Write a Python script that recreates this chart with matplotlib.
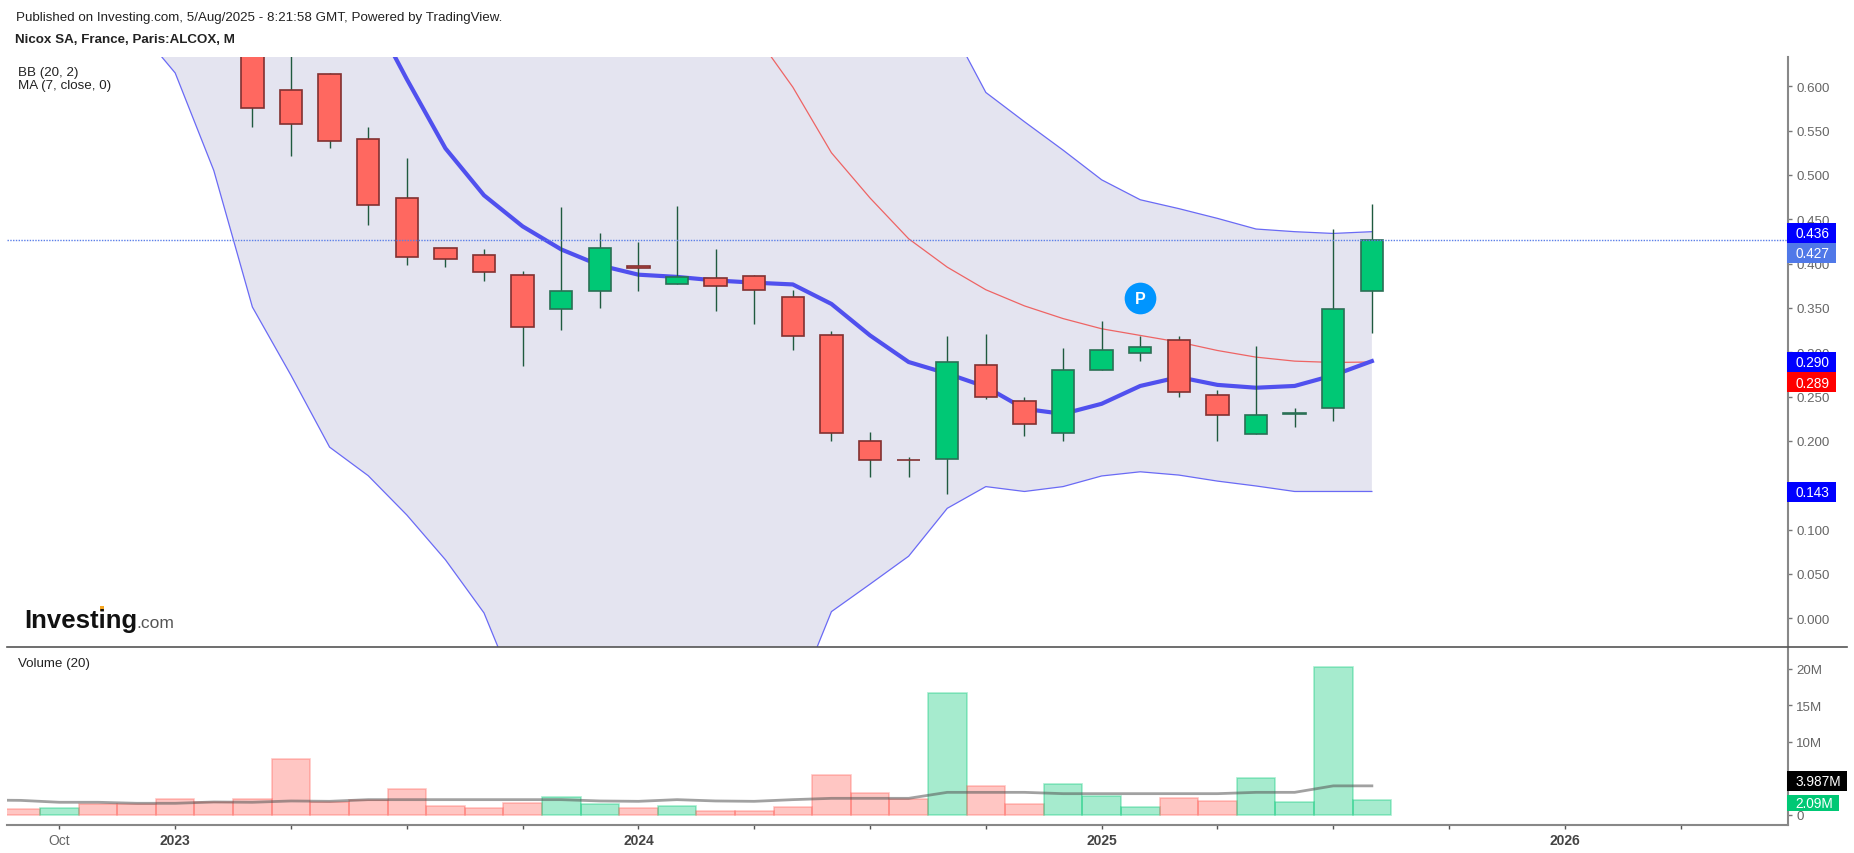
import matplotlib
matplotlib.use('Agg')
import matplotlib.pyplot as plt
from matplotlib.lines import Line2D
from matplotlib.patches import Rectangle
from matplotlib.transforms import IdentityTransform

plt.rcParams['font.family'] = ['Liberation Sans', 'DejaVu Sans']

W, H = 1854, 854

# month index, 0 = Oct 2022
candle_idx = list(range(5, 35))
opens = [0.700, 0.596, 0.614, 0.540, 0.474, 0.418, 0.410, 0.3875, 0.349, 0.369,
         0.397, 0.377, 0.3835, 0.3855, 0.362, 0.3195, 0.1996, 0.179, 0.180, 0.2855,
         0.245, 0.2095, 0.280, 0.2995, 0.314, 0.252, 0.208, 0.230, 0.2375, 0.369]
closes = [0.576, 0.557, 0.538, 0.466, 0.408, 0.405, 0.391, 0.328, 0.369, 0.418,
          0.3955, 0.3845, 0.3745, 0.370, 0.318, 0.209, 0.178, 0.178, 0.2885, 0.249,
          0.219, 0.2805, 0.3025, 0.3055, 0.255, 0.229, 0.2295, 0.231, 0.349, 0.427]
highs = [0.720, 0.660, 0.615, 0.554, 0.519, 0.418, 0.4165, 0.392, 0.4635, 0.435,
         0.424, 0.465, 0.416, 0.387, 0.3705, 0.3245, 0.2098, 0.1816, 0.3187, 0.3203,
         0.2495, 0.3045, 0.3355, 0.3187, 0.3187, 0.257, 0.3075, 0.237, 0.4385, 0.467]
lows = [0.5545, 0.5215, 0.530, 0.444, 0.398, 0.3965, 0.380, 0.284, 0.325, 0.350,
        0.3695, 0.377, 0.346, 0.332, 0.302, 0.2003, 0.1598, 0.1598, 0.1403, 0.2475,
        0.206, 0.2003, 0.280, 0.2905, 0.250, 0.2003, 0.208, 0.216, 0.222, 0.322]

# bands run far off the visible range on the left, those values are rough
band_idx = list(range(2, 35))
bb_upper = [1.28, 1.30, 1.34, 1.36, 1.36, 1.34, 1.32, 1.28, 1.24, 1.20, 1.16,
            1.12, 1.08, 1.05, 1.02, 1.00, 0.98, 0.97, 0.95, 0.88, 0.78, 0.675,
            0.593, 0.560, 0.528, 0.4945, 0.472, 0.462, 0.451, 0.439, 0.436, 0.434, 0.436]
bb_lower = [0.667, 0.615, 0.505, 0.351, 0.274, 0.193, 0.1608, 0.1165, 0.066, 0.006,
            -0.10, -0.18, -0.24, -0.27, -0.28, -0.26, -0.20, -0.10, 0.0075, 0.0385,
            0.070, 0.124, 0.1485, 0.143, 0.1485, 0.1605, 0.1652, 0.1615, 0.1547, 0.1492,
            0.143, 0.143, 0.143]

basis_idx = list(range(18, 35))
bb_basis = [0.660, 0.599, 0.525, 0.474, 0.428, 0.396, 0.3705, 0.3523, 0.338, 0.3265,
            0.319, 0.3115, 0.302, 0.2945, 0.290, 0.2885, 0.289]

ma_idx = list(range(8, 35))
ma7 = [0.690, 0.608, 0.530, 0.477, 0.442, 0.416, 0.398, 0.3875, 0.385, 0.381,
       0.3785, 0.3765, 0.3545, 0.319, 0.289, 0.276, 0.261, 0.2362, 0.2305, 0.2419,
       0.262, 0.272, 0.2632, 0.260, 0.262, 0.274, 0.290]

# volume in millions, starts one month before Oct 2022
vol_idx = list(range(-1, 35))
volume = [0.78, 0.91, 1.46, 1.55, 2.15, 1.78, 2.15, 7.63, 1.78, 2.10, 3.52, 1.28,
          0.91, 1.60, 2.47, 1.46, 0.91, 1.28, 0.55, 0.55, 1.05, 5.43, 3.01, 2.19,
          16.67, 4.02, 1.46, 4.20, 2.60, 1.05, 2.28, 1.96, 5.02, 1.78, 20.27, 2.09]
vol_up = [0, 1, 0, 0, 0, 0, 0, 0, 0, 0, 0, 0,
          0, 0, 1, 1, 0, 1, 0, 0, 0, 0, 0, 0,
          1, 0, 0, 1, 1, 1, 0, 0, 1, 1, 1, 1]
vol_ma_idx = list(range(-2, 35))
vol_ma = [2.05, 2.00, 1.74, 1.74, 1.60, 1.60, 1.78, 1.74, 1.92, 1.87, 2.10, 2.10, 2.10,
          2.10, 2.10, 2.10, 1.92, 1.87, 2.10, 1.92, 1.87, 2.10, 2.28, 2.28, 2.28,
          3.10, 3.10, 3.10, 2.92, 2.92, 2.92, 2.92, 2.92, 3.10, 3.10, 3.987, 3.987]

price_ticks = [0.0, 0.05, 0.10, 0.15, 0.20, 0.25, 0.30, 0.35, 0.40, 0.45, 0.50, 0.55, 0.60]
vol_ticks = [0, 5, 10, 15, 20]
vol_tick_labels = ['0', '5M', '10M', '15M', '20M']
month_ticks = [0, 3, 6, 9, 12, 15, 18, 21, 24, 27, 30, 33, 36, 39, 42]
month_labels = {0: 'Oct', 3: '2023', 15: '2024', 27: '2025', 39: '2026'}

GREEN = '#00c875'
RED = '#ff6860'


def fx(px):
    return px / W


def fy(py):
    return 1 - py / H


fig = plt.figure(figsize=(W / 100, H / 100), dpi=100, facecolor='white')
ax = fig.add_axes([fx(7), fy(648), fx(1788 - 7), (648 - 58) / H])
vax = fig.add_axes([fx(7), fy(825.7), fx(1788 - 7), (825.7 - 648) / H], sharex=ax)

# price panel
ax.fill_between(band_idx, bb_lower, bb_upper, color='#e4e4f0', lw=0, zorder=1)
ax.plot(band_idx, bb_upper, color='#6a6af5', lw=0.9, zorder=2)
ax.plot(band_idx, bb_lower, color='#6a6af5', lw=0.9, zorder=2)
ax.plot(basis_idx, bb_basis, color='#ee6464', lw=0.9, zorder=2)
ax.plot(ma_idx, ma7, color='#5050ee', lw=3.0, zorder=3, solid_joinstyle='round')

for i, o, c, h, l in zip(candle_idx, opens, closes, highs, lows):
    up = c >= o
    ax.vlines(i, l, h, color='#1f5a3f', lw=1.0, zorder=4)
    ax.bar(i, abs(c - o), bottom=min(o, c), width=0.58, color=GREEN if up else RED,
           edgecolor='#2a7055' if up else '#823030', lw=1.2, zorder=5)

ax.axhline(0.427, color='#5b7fe8', lw=1.0, ls=(0, (1, 1)), zorder=6)

ax.scatter([28], [0.3609], s=520, color='#0095ff', zorder=7, linewidths=0)
ax.text(28, 0.3609, 'P', color='white', fontsize=11.5, fontweight='bold', ha='center',
        va='center', zorder=8)

ax.set_xlim(-1.357, 44.78)
ax.set_ylim(-0.0324, 0.6330)
ax.yaxis.tick_right()
ax.set_yticks(price_ticks)
ax.set_yticklabels(['%.3f' % p for p in price_ticks])
ax.tick_params(axis='y', length=3, width=1, color='#777777', labelcolor='#666666',
               labelsize=9.6, pad=3)
ax.tick_params(axis='x', length=0, labelbottom=False)
for s in ['top', 'left', 'bottom']:
    ax.spines[s].set_visible(False)
ax.spines['right'].set_color('#888888')
ax.spines['right'].set_linewidth(1.5)

# volume panel
vcolors = [GREEN if u else '#ff5c54' for u in vol_up]
vax.bar(vol_idx, volume, width=1.0, color=vcolors, alpha=0.35, edgecolor=vcolors, lw=1.2, zorder=2)
vax.plot(vol_ma_idx, vol_ma, color='#555555', lw=2.0, alpha=0.55, zorder=3)
vax.set_ylim(-1.33, 23.0)
vax.yaxis.tick_right()
vax.set_yticks(vol_ticks)
vax.set_yticklabels(vol_tick_labels)
vax.tick_params(axis='y', length=3, width=1, color='#777777', labelcolor='#666666',
                labelsize=9.6, pad=3)
vax.set_xticks(month_ticks)
vax.set_xticklabels([month_labels.get(m, '') for m in month_ticks])
vax.tick_params(axis='x', length=3, width=1, color='#555555', labelcolor='#666666',
                labelsize=10, pad=3)
for lab, m in zip(vax.get_xticklabels(), month_ticks):
    if m in month_labels and m != 0:
        lab.set_fontweight('bold')
        lab.set_color('#444444')
for s in ['top', 'left']:
    vax.spines[s].set_visible(False)
for s in ['right', 'bottom']:
    vax.spines[s].set_color('#888888')
    vax.spines[s].set_linewidth(1.5)

# separator between the panels runs on past the axis
fig.add_artist(Line2D([fx(7), fx(1847)], [fy(648), fy(648)], color='#555555', lw=1.2,
                      transform=fig.transFigure))


def tag(a, value, text, color, shift=0, width=49, height=20):
    # value box sitting on the price scale, shift in pixels downward
    y = a.transData.transform((0, value))[1] - shift
    fig.add_artist(Rectangle((1787, y - height / 2), width, height, facecolor=color, lw=0, zorder=3,
                             transform=IdentityTransform()))
    fig.add_artist(plt.Text(1795.5, y - 0.5, text, color='white', fontsize=9.8, va='center', ha='left',
                            zorder=4, transform=IdentityTransform()))


tag(ax, 0.436, '0.436', '#0000ff', shift=1)
tag(ax, 0.427, '0.427', '#5078e8', shift=13.3)
tag(ax, 0.290, '0.290', '#0000ff', shift=0.8)
tag(ax, 0.289, '0.289', '#ff0000', shift=20)
tag(ax, 0.143, '0.143', '#0000ff', shift=0.5)
tag(vax, 3.987, '3.987M', '#000000', shift=-5, width=60)
tag(vax, 2.09, '2.09M', GREEN, shift=3, width=52, height=16)

# header and legends
fig.text(fx(16), fy(17.5), 'Published on Investing.com, 5/Aug/2025 - 8:21:58 GMT, Powered by TradingView.',
         fontsize=9.6, color='#222222', va='center')
fig.text(fx(15), fy(40), 'Nicox SA, France, Paris:ALCOX, M', fontsize=9.6, fontweight='bold',
         color='#222222', va='center')
fig.text(fx(18), fy(73), 'BB (20, 2)', fontsize=9.6, color='#222222', va='center')
fig.text(fx(18), fy(86.5), 'MA (7, close, 0)', fontsize=9.6, color='#222222', va='center')
fig.text(fx(18), fy(664), 'Volume (20)', fontsize=9.6, color='#222222', va='center')

# logo
fig.text(fx(24), fy(628), 'Investing', fontsize=18.5, fontweight='bold', color='#111111', va='baseline')
fig.text(fx(136), fy(628), '.com', fontsize=12.5, color='#555555', va='baseline')
fig.add_artist(Rectangle((fx(100), fy(611.5)), 4 / W, 5 / H, facecolor='#f5a623', lw=0,
                         transform=fig.transFigure))

fig.savefig('out.png', dpi=100)
